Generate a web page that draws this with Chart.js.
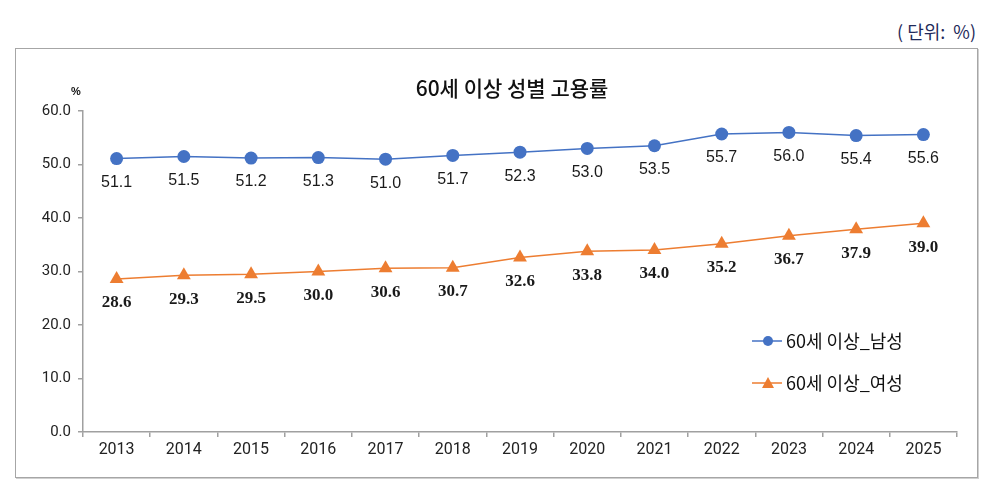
<!DOCTYPE html>
<html>
<head>
<meta charset="utf-8">
<script src="https://cdn.jsdelivr.net/npm/chart.js@4"></script>
<style>
  body { margin: 0; background: #fff; width: 996px; height: 490px; position: relative; overflow: hidden; }
  #unit {
    position: absolute; top: 18px; right: 20px; white-space: pre;
    font: 18px "Noto Sans CJK KR", sans-serif; color: #1f2a5a;
  }
  #box {
    position: absolute; left: 15px; top: 48px; width: 961px; height: 428px;
    border: 1px solid #a6a6a6; box-shadow: 1px 1px 0 #d0d0d0;
  }
  #box canvas { display: block; }
</style>
</head>
<body>
<div id="unit">( 단위:  %)</div>
<div id="box"><canvas id="chart" width="961" height="428"></canvas></div>
<script>
const years = ["2013","2014","2015","2016","2017","2018","2019","2020","2021","2022","2023","2024","2025"];
const maleRate = [51.1, 51.5, 51.2, 51.3, 51.0, 51.7, 52.3, 53.0, 53.5, 55.7, 56.0, 55.4, 55.6];
const femaleRate = [28.6, 29.3, 29.5, 30.0, 30.6, 30.7, 32.6, 33.8, 34.0, 35.2, 36.7, 37.9, 39.0];
const yTicks = [0, 10, 20, 30, 40, 50, 60];
const seriesNames = ["60세 이상_남성", "60세 이상_여성"];

const BLUE = "#4472c4";
const ORANGE = "#ed7d31";

// title, % mark, point labels and the legend box
const decor = {
  id: "decor",
  afterDatasetsDraw(chart) {
    const ctx = chart.ctx;
    const area = chart.chartArea;
    ctx.save();

    ctx.fillStyle = "#111";
    ctx.font = "500 21px 'Noto Sans CJK KR', sans-serif";
    ctx.textAlign = "center";
    ctx.textBaseline = "middle";
    ctx.fillText("60세 이상 성별 고용률", (area.left + area.right) / 2 - 8, 39);

    ctx.font = "bold 11px 'Liberation Sans', sans-serif";
    ctx.fillText("%", 60, 43);

    // value labels under each point
    chart.data.datasets.forEach((ds, i) => {
      const meta = chart.getDatasetMeta(i);
      ctx.font = i === 0 ? "16px 'Liberation Sans', sans-serif"
                         : "bold 17px 'Liberation Serif', serif";
      ctx.fillStyle = "#1a1a1a";
      meta.data.forEach((pt, j) => {
        ctx.fillText(ds.data[j].toFixed(1), pt.x, pt.y + 24);
      });
    });

    // legend
    const rows = [292, 334];
    chart.data.datasets.forEach((ds, i) => {
      const y = rows[i];
      ctx.strokeStyle = ds.borderColor;
      ctx.lineWidth = 1.5;
      ctx.beginPath();
      ctx.moveTo(736, y);
      ctx.lineTo(766, y);
      ctx.stroke();
      ctx.fillStyle = ds.pointBackgroundColor;
      ctx.beginPath();
      if (i === 0) {
        ctx.arc(752, y, 5, 0, Math.PI * 2);
      } else {
        ctx.moveTo(752, y - 6);
        ctx.lineTo(758, y + 5);
        ctx.lineTo(746, y + 5);
        ctx.closePath();
      }
      ctx.fill();
      ctx.fillStyle = "#111";
      ctx.font = "18px 'Noto Sans CJK KR', sans-serif";
      ctx.textAlign = "left";
      ctx.fillText(ds.label, 770, y);
      ctx.textAlign = "center";
    });

    ctx.restore();
  }
};

new Chart(document.getElementById("chart"), {
  type: "line",
  data: {
    labels: years,
    datasets: [
      {
        label: seriesNames[0],
        data: maleRate,
        borderColor: BLUE,
        borderWidth: 1.5,
        pointStyle: "circle",
        pointRadius: 6.5,
        pointBackgroundColor: BLUE,
        pointBorderColor: BLUE,
        pointBorderWidth: 0
      },
      {
        label: seriesNames[1],
        data: femaleRate,
        borderColor: ORANGE,
        borderWidth: 1.5,
        pointStyle: "triangle",
        pointRadius: 8,
        pointBackgroundColor: ORANGE,
        pointBorderColor: ORANGE,
        pointBorderWidth: 0
      }
    ]
  },
  options: {
    responsive: false,
    animation: false,
    layout: { padding: { top: 62, right: 20, left: 0, bottom: 0 } },
    plugins: { legend: { display: false }, tooltip: { enabled: false } },
    scales: {
      x: {
        offset: true,
        grid: { offset: true, drawOnChartArea: false, tickLength: 5, color: "#a0a0a0", lineWidth: 1.5 },
        border: { color: "#a0a0a0", width: 1.5 },
        ticks: { color: "#222", font: { family: "Roboto", size: 16 }, padding: 3, maxRotation: 0 },
        afterFit(scale) { scale.height = 45; }
      },
      y: {
        min: 0,
        max: 60,
        afterBuildTicks(scale) { scale.ticks = yTicks.map(v => ({ value: v })); },
        grid: { drawOnChartArea: false, tickLength: 5, color: "#a0a0a0", lineWidth: 1.5 },
        border: { color: "#a0a0a0", width: 1.5 },
        ticks: {
          color: "#222",
          font: { family: "Roboto", size: 15 },
          padding: 7,
          callback: v => v.toFixed(1)
        },
        afterFit(scale) { scale.width = 67; }
      }
    }
  },
  plugins: [decor]
});
</script>
</body>
</html>
